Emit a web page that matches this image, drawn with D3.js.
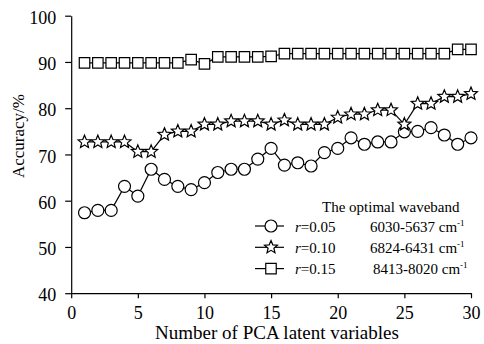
<!DOCTYPE html>
<html>
<head>
<meta charset="utf-8">
<script src="https://cdn.jsdelivr.net/npm/d3@7"></script>
<style>
  body { margin: 0; background: #fff; }
</style>
</head>
<body>
<div id="chart"></div>
<script>
// chart size
const c_width = 484;
const c_height = 344;
const serif = "'Liberation Serif', 'Times New Roman', serif";

// data
const xs = d3.range(1, 31);
const r005 = [57.4, 57.9, 57.9, 63.1, 61.0, 66.8, 64.6, 63.1, 62.4, 63.9,
              66.1, 66.8, 66.8, 69.0, 71.3, 67.7, 68.2, 67.5, 70.4, 71.3,
              73.6, 72.2, 72.7, 72.7, 74.9, 75.0, 75.8, 74.2, 72.2, 73.6];
const r010 = [72.7, 72.7, 72.7, 72.7, 70.6, 70.6, 74.3, 75.0, 75.0, 76.5,
              76.5, 77.2, 77.2, 77.2, 76.5, 77.4, 76.5, 76.5, 76.5, 78.0,
              78.7, 78.7, 79.6, 79.6, 76.5, 81.0, 81.0, 82.5, 82.5, 83.1];
const r015 = [89.8, 89.8, 89.8, 89.8, 89.8, 89.8, 89.8, 89.8, 90.5, 89.6,
              91.1, 91.1, 91.1, 91.1, 91.2, 91.8, 91.8, 91.8, 91.8, 91.8,
              91.8, 91.8, 91.8, 91.8, 91.8, 91.8, 91.8, 91.8, 92.7, 92.7];
const xTicks = [0, 5, 10, 15, 20, 25, 30];
const yTicks = [40, 50, 60, 70, 80, 90, 100];
const legendNames = ["0.05", "0.10", "0.15"];
const legendBands = ["6030-5637", "6824-6431", "8413-8020"];

const svg = d3.select("#chart").append("svg")
  .attr("width", c_width)
  .attr("height", c_height);

// scales
const x = d3.scaleLinear().domain([0, 30]).range([71.2, 471]);
const y = d3.scaleLinear().domain([40, 100]).range([293.2, 15.7]);

// axes
const xAxis = d3.axisBottom(x).tickValues(xTicks).tickSize(5).tickSizeOuter(0);
const yAxis = d3.axisLeft(y).tickValues(yTicks).tickSize(6).tickSizeOuter(0);

const gx = svg.append("g")
  .attr("transform", "translate(0," + y(40) + ")")
  .call(xAxis);
gx.selectAll("text").attr("y", 26).attr("dy", 0).style("font-size", "18px");

const gy = svg.append("g")
  .attr("transform", "translate(" + x(0) + ",0)")
  .call(yAxis);
gy.selectAll("text").attr("x", -15).attr("dy", "0.42em").style("font-size", "18px");

svg.selectAll(".domain, .tick line").attr("stroke", "#000").attr("stroke-width", 1.2);
svg.selectAll(".tick text").attr("fill", "#000");

// axis titles
svg.append("text")
  .attr("x", 277)
  .attr("y", 339)
  .attr("text-anchor", "middle")
  .style("font-size", "19px")
  .text("Number of PCA latent variables");

svg.append("text")
  .attr("transform", "translate(24,136) rotate(-90)")
  .attr("text-anchor", "middle")
  .style("font-size", "17px")
  .text("Accuracy/%");

// a fatter star than d3's own
const fatStar = {
  draw(ctx, size) {
    const R = Math.sqrt(size), r = R * 0.45;
    for (let i = 0; i < 10; i++) {
      const a = -Math.PI / 2 + i * Math.PI / 5;
      const rr = i % 2 ? r : R;
      if (i === 0) ctx.moveTo(rr * Math.cos(a), rr * Math.sin(a));
      else ctx.lineTo(rr * Math.cos(a), rr * Math.sin(a));
    }
    ctx.closePath();
  }
};

// marker shapes
const shapes = [
  d3.symbol().type(d3.symbolCircle).size(113),
  d3.symbol().type(fatStar).size(46),
  d3.symbol().type(d3.symbolSquare).size(110)
];
const series = [r005, r010, r015];

const line = d3.line().x((d, i) => x(xs[i])).y(d => y(d));

series.forEach((vals, k) => {
  svg.append("path")
    .datum(vals)
    .attr("d", line)
    .attr("fill", "none")
    .attr("stroke", "#000")
    .attr("stroke-width", 1.2);
  svg.append("g").selectAll("path")
    .data(vals)
    .enter()
    .append("path")
    .attr("d", shapes[k])
    .attr("transform", (d, i) => "translate(" + x(xs[i]) + "," + y(d) + ")")
    .attr("fill", "#fff")
    .attr("stroke", "#000")
    .attr("stroke-width", 1.2);
});

// legend
svg.append("text")
  .attr("x", 322)
  .attr("y", 212)
  .style("font-size", "15px")
  .text("The optimal waveband");

legendNames.forEach((nm, k) => {
  const ly = 226 + k * 21.3;
  const g = svg.append("g");
  g.append("line")
    .attr("x1", 255).attr("x2", 284)
    .attr("y1", ly).attr("y2", ly)
    .attr("stroke", "#000").attr("stroke-width", 1.2);
  g.append("path")
    .attr("d", shapes[k])
    .attr("transform", "translate(271," + ly + ")")
    .attr("fill", "#fff").attr("stroke", "#000").attr("stroke-width", 1.2);
  const t = g.append("text")
    .attr("x", 295).attr("y", ly + 5.5)
    .style("font-size", "15px");
  t.append("tspan").style("font-style", "italic").text("r");
  t.append("tspan").text("=" + nm);
  const b = g.append("text")
    .attr("x", 370 + (k === 2 ? 3 : 0)).attr("y", ly + 5.5)
    .style("font-size", "15px");
  b.append("tspan").text(legendBands[k] + " cm");
  b.append("tspan").attr("dy", -6).style("font-size", "9px").text("-1");
});

// every text in Times-like serif
svg.selectAll("text").style("font-family", serif).attr("fill", "#000");
</script>
</body>
</html>
